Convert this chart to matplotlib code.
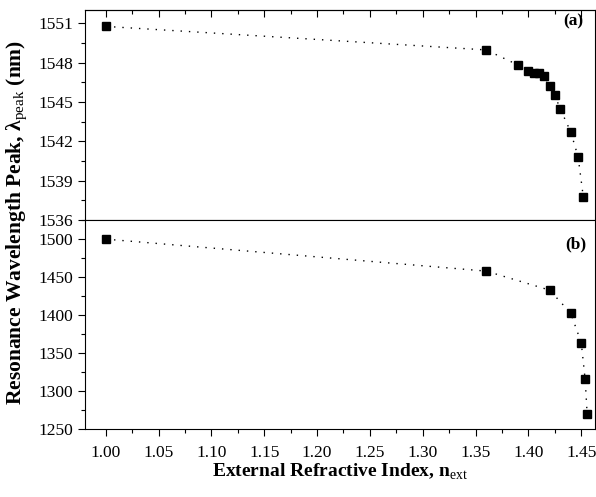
import matplotlib
matplotlib.use("Agg")
import matplotlib.pyplot as plt
from matplotlib.ticker import MultipleLocator

plt.rcParams["font.family"] = "Liberation Serif"
plt.rcParams["mathtext.fontset"] = "custom"
plt.rcParams["mathtext.rm"] = "Liberation Serif"
plt.rcParams["mathtext.bf"] = "Liberation Serif:bold"

# panel (a)
n_ext_a = [1.00, 1.36, 1.39, 1.40, 1.405, 1.41, 1.415, 1.42, 1.425, 1.43, 1.44, 1.447, 1.452]
peak_a = [1550.75, 1548.96, 1547.82, 1547.39, 1547.23, 1547.23, 1546.98, 1546.22,
          1545.51, 1544.49, 1542.73, 1540.83, 1537.73]

# panel (b)
n_ext_b = [1.00, 1.36, 1.42, 1.44, 1.45, 1.4537, 1.4556]
peak_b = [1500.0, 1458.0, 1433.0, 1402.8, 1363.8, 1315.7, 1269.7]

fig = plt.figure(figsize=(5.96, 4.97), dpi=100)
ax1 = fig.add_axes([0.1426, 0.5571, 0.8557, 0.4228])
ax2 = fig.add_axes([0.1426, 0.1362, 0.8557, 0.4209])

for ax, x, y in [(ax1, n_ext_a, peak_a), (ax2, n_ext_b, peak_b)]:
    ax.plot(x, y, color="black", linestyle=(0, (1, 5)), linewidth=1.0)
    ax.plot(x, y, "s", color="black", markersize=5.3)
    ax.set_xlim(0.9804, 1.463)
    ax.xaxis.set_major_locator(MultipleLocator(0.05))
    ax.xaxis.set_minor_locator(MultipleLocator(0.025))
    ax.tick_params(which="both", direction="out", labelsize=12.5, width=0.8)
    ax.tick_params(which="major", length=5)
    ax.tick_params(which="minor", length=3)
    ax.tick_params(axis="x", pad=6)
    for s in ax.spines.values():
        s.set_linewidth(0.8)

ax1.set_ylim(1536, 1552)
ax1.yaxis.set_major_locator(MultipleLocator(3))
ax1.yaxis.set_minor_locator(MultipleLocator(1.5))
ax1.tick_params(axis="x", bottom=True, labelbottom=False)
top = ax1.secondary_xaxis("top")
top.xaxis.set_major_locator(MultipleLocator(0.05))
top.xaxis.set_minor_locator(MultipleLocator(0.025))
top.tick_params(which="both", direction="in", labeltop=False, width=0.8)
top.tick_params(which="major", length=5)
top.tick_params(which="minor", length=3)

ax2.set_ylim(1250, 1525)
ax2.yaxis.set_major_locator(MultipleLocator(50))
ax2.yaxis.set_minor_locator(MultipleLocator(25))
ax2.xaxis.set_major_formatter(plt.FuncFormatter(lambda v, p: f"{v:.2f}"))

ax1.text(0.978, 0.944, "(a)", transform=ax1.transAxes, ha="right", va="center",
         fontsize=12.5, fontweight="bold")
ax2.text(0.984, 0.884, "(b)", transform=ax2.transAxes, ha="right", va="center",
         fontsize=12.5, fontweight="bold")

ax2.set_xlabel(r"External Refractive Index, n$_{\mathrm{ext}}$", fontsize=14,
               fontweight="bold", labelpad=1)
fig.text(0.029, 0.553, r"Resonance Wavelength Peak, $\mathbf{\lambda}_{\mathrm{peak}}$ (nm)",
         rotation=90, ha="center", va="center", fontsize=15.5, fontweight="bold")

fig.savefig("out.png", dpi=100)
